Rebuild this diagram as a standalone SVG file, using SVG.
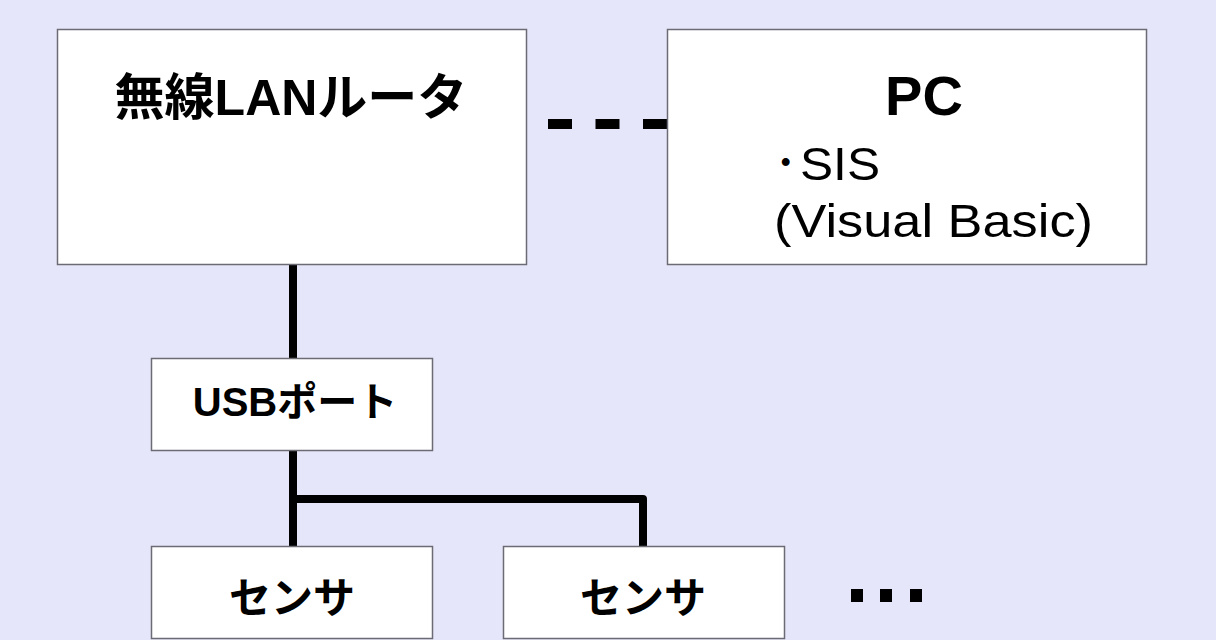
<svg xmlns="http://www.w3.org/2000/svg" width="1216" height="640" viewBox="0 0 1216 640">
<style>
.box{fill:#ffffff;stroke:#6b6b75;stroke-width:1.5}
.t{font-family:"Liberation Sans","Noto Sans CJK JP",sans-serif;fill:#000}
.b{font-weight:bold}
.wire{fill:none;stroke:#000;stroke-width:8;stroke-linejoin:round}
</style>
<rect x="0" y="0" width="1216" height="640" fill="#e6e6fa"/>
<g id="connectors">
<line x1="548" y1="124" x2="667" y2="124" stroke="#000" stroke-width="10" stroke-dasharray="24 23.5"/>
<line class="wire" x1="293" y1="264" x2="293" y2="358"/>
<polyline class="wire" points="293,451 293,546"/>
<polyline class="wire" points="293,499 643,499 643,546"/>
</g>
<g id="router">
<rect class="box" x="57.5" y="29.5" width="469" height="235"/>
<text class="t b" x="291" y="115" font-size="50" text-anchor="middle">無線LANルータ</text>
</g>
<g id="pc">
<rect class="box" x="667.5" y="29.5" width="479" height="235"/>
<text class="t b" x="924" y="115" font-size="56" text-anchor="middle">PC</text>
<text class="t" x="774" y="180" font-size="47">･<tspan x="800" textLength="80" lengthAdjust="spacingAndGlyphs">SIS</tspan></text>
<text class="t" x="774" y="237" font-size="47" textLength="319" lengthAdjust="spacingAndGlyphs">(Visual Basic)</text>
</g>
<g id="usb">
<rect class="box" x="151.5" y="358.5" width="281" height="92"/>
<text class="t b" x="295" y="416" font-size="40" text-anchor="middle">USBポート</text>
</g>
<g id="sensor1">
<rect class="box" x="151.5" y="546.5" width="281" height="92"/>
<text class="t b" x="292" y="613" font-size="42" text-anchor="middle">センサ</text>
</g>
<g id="sensor2">
<rect class="box" x="503.5" y="546.5" width="281" height="92"/>
<text class="t b" x="643" y="613" font-size="42" text-anchor="middle">センサ</text>
</g>
<g id="more">
<rect x="851" y="589" width="12" height="13" fill="#000"/>
<rect x="880" y="589" width="12" height="13" fill="#000"/>
<rect x="910" y="589" width="12" height="13" fill="#000"/>
</g>
</svg>
